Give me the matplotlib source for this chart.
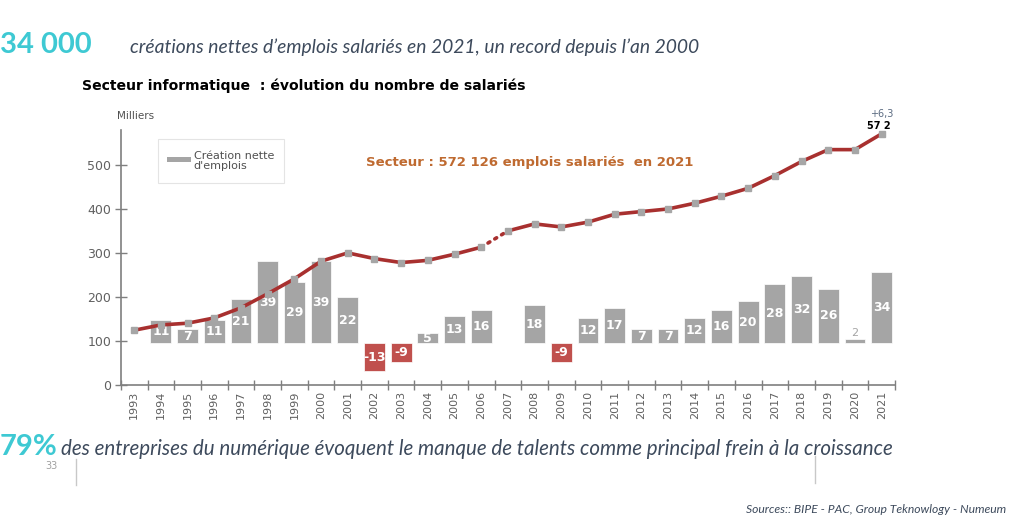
import numpy as np
import matplotlib.pyplot as plt
from matplotlib.patches import Rectangle

# data
years = list(range(1993, 2022))
salaries = [125, 137, 141, 153, 176, 208, 242, 282, 301, 288, 279, 284, 298, 314,
            351, 367, 360, 371, 389, 395, 401, 414, 430, 448, 477, 509, 536, 536, 572]
# net job creation (thousands), None = no bar
creation = [None, 11, 7, 11, 21, 39, 29, 39, 22, -13, -9, 5, 13, 16,
            None, 18, -9, 12, 17, 7, 7, 12, 16, 20, 28, 32, 26, 2, 34]
yticks = [0, 100, 200, 300, 400, 500]

cyan = '#3ec9d3'
navy = '#3d4a5c'
line_red = '#a8302f'
bar_grey = '#a5a5a5'
neg_red = '#c0504d'
axis_grey = '#7f7f7f'

plt.rcParams['font.family'] = ['DejaVu Sans']

fig = plt.figure(figsize=(10.24, 5.17), dpi=100)

# headline texts
fig.text(0.0, 0.897, '34 000', color=cyan, fontsize=21, fontweight='bold',
         family='Lato', va='baseline')
fig.text(0.127, 0.897, "créations nettes d’emplois salariés en 2021, un record depuis l’an 2000",
         color=navy, fontsize=13.9, style='italic', family='Lato', va='baseline')
fig.text(0.080, 0.825, 'Secteur informatique  : évolution du nombre de salariés',
         color='black', fontsize=10.1, fontweight='bold', family='DejaVu Sans', va='baseline')

fig.text(0.0, 0.12, '79%', color=cyan, fontsize=21, fontweight='bold',
         family='Lato', va='baseline')
fig.text(0.060, 0.12, "des entreprises du numérique évoquent le manque de talents comme principal frein à la croissance",
         color=navy, fontsize=14.8, style='italic', family='Lato', va='baseline')
fig.text(0.044, 0.093, '33', color='#a0a0a0', fontsize=7, va='baseline')
fig.add_artist(plt.Line2D([0.074, 0.074], [0.062, 0.112], color='#c8c8c8', lw=1))
fig.add_artist(plt.Line2D([0.796, 0.796], [0.066, 0.118], color='#c8c8c8', lw=1))
fig.text(0.983, 0.008, 'Sources:: BIPE - PAC, Group Teknowlogy - Numeum', color=navy,
         fontsize=8.7, style='italic', family='Lato', ha='right', va='baseline')

# main axes
ax = fig.add_axes([0.118, 0.255, 0.756, 0.493])
ax2 = ax.twinx()
ax.set_zorder(ax2.get_zorder() + 1)
ax.patch.set_visible(False)

ymax = 580
base = 95      # level where the bars start
scale = 4.8    # bar units per thousand created jobs
ax.set_xlim(1992.5, 2021.5)
ax.set_ylim(0, ymax)
ax2.set_ylim(-base / scale, (ymax - base) / scale)

# bars on the twin axis
for yr, v in zip(years, creation):
    if v is None:
        continue
    col = neg_red if v < 0 else bar_grey
    ax2.bar(yr, v, width=0.78, color=col, edgecolor='white', linewidth=0.5)
    if v == 2:
        ax2.text(yr, v + 3, str(v), ha='center', va='center', color='#a5a5a5', fontsize=8)
    else:
        ax2.text(yr, v / 2, str(v), ha='center', va='center', color='white',
                 fontsize=9, fontweight='bold')

# employment line, dotted across the 2006-2007 break
i = years.index(2006)
ax.plot(years[:i + 1], salaries[:i + 1], color=line_red, lw=2.6, zorder=3)
ax.plot(years[i + 1:], salaries[i + 1:], color=line_red, lw=2.6, zorder=3)
ax.plot(years[i:i + 2], salaries[i:i + 2], color=line_red, lw=2.6, ls=(0, (0.6, 1.6)),
        dash_capstyle='round', zorder=3)
ax.plot(years, salaries, ls='none', marker='s', ms=5, color='#a6a6a6', zorder=4)

# axes styling
for a in (ax, ax2):
    for s in ('top', 'right'):
        a.spines[s].set_visible(False)
ax2.spines['left'].set_visible(False)
ax2.spines['bottom'].set_visible(False)
ax2.set_yticks([])
ax2.tick_params(right=False, labelright=False)
ax.spines['left'].set_color(axis_grey)
ax.spines['bottom'].set_color(axis_grey)
ax.spines['left'].set_linewidth(1.2)
ax.spines['bottom'].set_linewidth(1.2)

ax.set_yticks(yticks)
ax.set_yticklabels([str(t) for t in yticks])
ax.set_xticks([y + 0.5 for y in [1992] + years])
ax.set_xticklabels([])
ax.set_xticks(years, minor=True)
ax.set_xticklabels([str(y) for y in years], minor=True, rotation=90)
ax.tick_params(axis='x', which='major', direction='inout', length=7, color=axis_grey, width=1)
ax.tick_params(axis='x', which='minor', length=0, labelsize=8, labelcolor='#606060', pad=4)
ax.tick_params(axis='y', direction='inout', length=8, color=axis_grey, width=1,
               labelsize=9, labelcolor='#606060', pad=3)

ax.text(-0.005, 1.035, 'Milliers', transform=ax.transAxes, fontsize=7.5, color='#505050',
        ha='left', va='bottom')

# legend box
ax.add_patch(Rectangle((0.048, 0.795), 0.163, 0.17, transform=ax.transAxes,
                       facecolor='white', edgecolor='#e4e4e4', lw=0.8, zorder=5))
ax.add_patch(Rectangle((0.060, 0.875), 0.03, 0.022, transform=ax.transAxes,
                       facecolor=bar_grey, edgecolor='none', zorder=6))
ax.text(0.094, 0.92, 'Création nette\nd\'emplois', transform=ax.transAxes, fontsize=8,
        color='#505050', va='top', ha='left', zorder=6, linespacing=1.1)

ax.text(0.317, 0.875, 'Secteur : 572 126 emplois salariés  en 2021', transform=ax.transAxes,
        fontsize=9.5, fontweight='bold', color='#bf6a30', va='center')

ax.text(2021, 618, '+6,3', fontsize=7, color='#5a6a80', ha='center', va='center', clip_on=False)
ax.text(2020.9, 590, '57 2', fontsize=7, color='black', fontweight='bold', ha='center',
        va='center', clip_on=False)

fig.savefig('out.png', dpi=100)
